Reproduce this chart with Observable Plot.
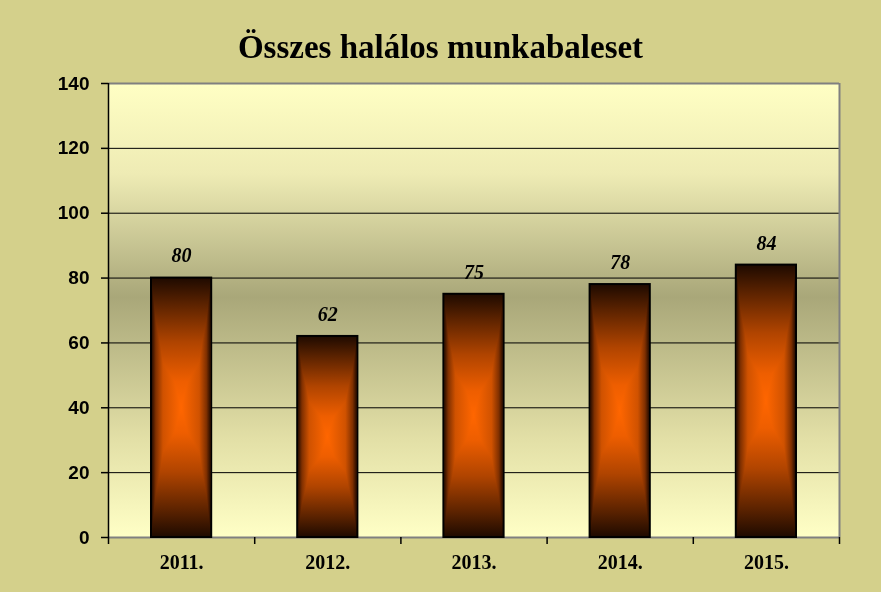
<!DOCTYPE html>
<html>
<head>
<meta charset="utf-8">
<script src="https://cdn.jsdelivr.net/npm/d3@7"></script>
<script src="https://cdn.jsdelivr.net/npm/@observablehq/plot@0.6"></script>
<style>
  html, body { margin: 0; padding: 0; background: #D4D08B; width: 881px; height: 592px; overflow: hidden; }
  #title { box-sizing: border-box; height: 70px; padding-top: 27px; line-height: 40px; text-align: center;
           font-family: "Liberation Serif", "Times New Roman", serif; font-weight: bold; font-size: 33px; color: #000; }
  #chart svg { display: block; }
</style>
</head>
<body>
<svg width="0" height="0" style="position:absolute">
  <defs>
    <linearGradient id="bg" x1="0" y1="0" x2="0" y2="1">
      <stop offset="0" stop-color="#FFFFC4"/>
      <stop offset="0.2" stop-color="#EEEBB4"/>
      <stop offset="0.47" stop-color="#A9A779"/>
      <stop offset="0.78" stop-color="#E2DFA6"/>
      <stop offset="1" stop-color="#FFFFC6"/>
    </linearGradient>
    <linearGradient id="hg" x1="0" y1="0" x2="1" y2="0">
      <stop offset="0" stop-color="#160600"/>
      <stop offset="0.08" stop-color="#803000"/>
      <stop offset="0.2" stop-color="#D05200"/>
      <stop offset="0.5" stop-color="#FF6600"/>
      <stop offset="0.8" stop-color="#D05200"/>
      <stop offset="0.92" stop-color="#803000"/>
      <stop offset="1" stop-color="#160600"/>
    </linearGradient>
    <linearGradient id="vg" x1="0" y1="0" x2="0" y2="1">
      <stop offset="0" stop-color="#1E0A00"/>
      <stop offset="0.1" stop-color="#5A2200"/>
      <stop offset="0.25" stop-color="#B04400"/>
      <stop offset="0.4" stop-color="#EE5E00"/>
      <stop offset="0.5" stop-color="#FF6600"/>
      <stop offset="0.6" stop-color="#EE5E00"/>
      <stop offset="0.75" stop-color="#B04400"/>
      <stop offset="0.9" stop-color="#5A2200"/>
      <stop offset="1" stop-color="#1E0A00"/>
    </linearGradient>
  </defs>
</svg>
<div id="title">Összes halálos munkabaleset</div>
<div id="chart"></div>
<script>
const years = ["2011.", "2012.", "2013.", "2014.", "2015."];
const values = [80, 62, 75, 78, 84];
const yTicks = [0, 20, 40, 60, 80, 100, 120, 140];

const data = years.map((year, i) => ({i, year, value: values[i]}));
const boundaries = d3.range(years.length + 1);

const chart = Plot.plot({
  width: 881,
  height: 522,
  marginLeft: 108,
  marginRight: 42,
  marginTop: 13,
  marginBottom: 55,
  style: {background: "none", overflow: "visible"},
  x: {type: "linear", domain: [0, years.length], axis: null},
  y: {type: "linear", domain: [0, 140], axis: null},
  marks: [
    Plot.frame({fill: "url(#bg)", stroke: null}),
    Plot.ruleY(yTicks.filter(t => t > 0 && t < 140), {stroke: "#000", strokeWidth: 1}),
    Plot.ruleY([140], {stroke: "#808080", strokeWidth: 2}),
    Plot.ruleX([years.length], {stroke: "#808080", strokeWidth: 2}),
    Plot.ruleY([0], {stroke: "#808080", strokeWidth: 2}),
    Plot.ruleX([0], {stroke: "#000", strokeWidth: 1.5}),
    Plot.rectY(data, {x1: "i", x2: d => d.i + 1, y: "value", insetLeft: 43, insetRight: 43, fill: "url(#hg)"}),
    Plot.rectY(data, {x1: "i", x2: d => d.i + 1, y: "value", insetLeft: 43, insetRight: 43, fill: "url(#vg)", stroke: "#000", strokeWidth: 2}),
    Plot.text(data, {x: d => d.i + 0.5, y: "value", text: d => String(d.value), dy: -22,
      fontFamily: "Liberation Serif, Times New Roman, serif", fontWeight: "bold", fontStyle: "italic", fontSize: 20, fill: "#000"}),
    // y-axis tick marks (outside, to the left)
    Plot.ruleY(yTicks, {x1: 0, x2: 0, insetLeft: -7, stroke: "#000", strokeWidth: 1.5}),
    // x-axis tick marks at category boundaries (below the axis)
    Plot.ruleX(boundaries, {y1: 0, y2: 0, insetBottom: -7, stroke: "#000", strokeWidth: 1.5}),
    Plot.text(yTicks, {y: d => d, x: 0, dx: -19, text: d => String(d), textAnchor: "end",
      fontFamily: "Liberation Sans, Arial, sans-serif", fontWeight: "bold", fontSize: 19, fill: "#000"}),
    Plot.text(data, {x: d => d.i + 0.5, y: 0, dy: 25, text: "year",
      fontFamily: "Liberation Serif, Times New Roman, serif", fontWeight: "bold", fontSize: 20, fill: "#000"})
  ]
});
document.getElementById("chart").appendChild(chart);

// blend the vertical-gradient bars over the horizontal ones -> rectangular "from center" gradient
const rectGroups = d3.select(chart).selectAll("g[aria-label='rect']").nodes();
if (rectGroups.length >= 2) rectGroups[rectGroups.length - 1].style.mixBlendMode = "darken";
</script>
</body>
</html>
